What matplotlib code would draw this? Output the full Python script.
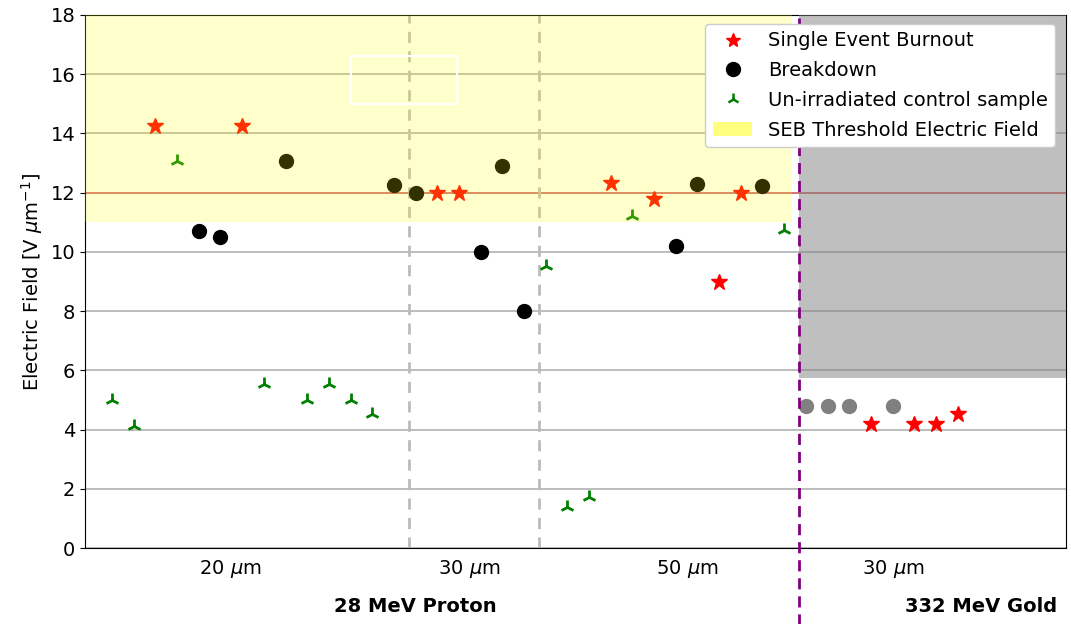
import matplotlib
matplotlib.use("Agg")
import matplotlib.pyplot as plt
from matplotlib.lines import Line2D
from matplotlib.patches import Patch, Rectangle
import matplotlib.transforms as mtransforms

plt.rcParams["font.size"] = 14

# Sample index along the x axis (proton samples 0-31, gold samples 32-39)
seb_x = [2, 6, 15, 16, 23, 25, 28, 29, 35, 37, 38, 39]
seb_y = [14.26, 14.26, 12.0, 12.0, 12.32, 11.8, 9.0, 12.0, 4.19, 4.19, 4.19, 4.52]

breakdown_x = [4, 5, 8, 13, 14, 17, 18, 19, 26, 27, 30]
breakdown_y = [10.7, 10.5, 13.07, 12.27, 12.0, 10.0, 12.9, 8.0, 10.2, 12.29, 12.23]

gold_breakdown_x = [32, 33, 34, 36]
gold_breakdown_y = [4.81, 4.81, 4.81, 4.81]

control_x = [0, 1, 3, 7, 9, 10, 11, 12, 20, 21, 22, 24, 31]
control_y = [5.0, 4.12, 13.07, 5.53, 5.0, 5.53, 5.0, 4.51, 9.52, 1.37, 1.71, 11.21, 10.74]

thickness_labels = ["20 $\\mu$m", "30 $\\mu$m", "50 $\\mu$m", "30 $\\mu$m"]
thickness_pos = [5.45, 16.5, 26.55, 36.05]
thickness_sep = [13.7, 19.7]
beam_sep = 31.7
beam_labels = ["28 MeV Proton", "332 MeV Gold"]
beam_pos = [14, 40.1]

seb_threshold = 12
x_left, x_right = -1.25, 44

fig = plt.figure(figsize=(10.71, 6.24), dpi=100)
ax = fig.add_axes([85 / 1071, 1 - 548 / 624, (1066 - 85) / 1071, (548 - 15) / 624])

ax.plot(seb_x, seb_y, "*", color="red", markersize=12, linestyle="none", zorder=2)
ax.plot(breakdown_x, breakdown_y, "o", color="black", markersize=10, linestyle="none", zorder=2)
ax.plot(gold_breakdown_x, gold_breakdown_y, "o", color="gray", markersize=10, linestyle="none", zorder=2)
ax.plot(control_x, control_y, "2", color="green", markersize=10, markeredgewidth=2,
        linestyle="none", zorder=2)

# threshold line and shaded regions
ax.axhline(seb_threshold, color="red", alpha=0.45, linewidth=1.2, zorder=1.5)
ax.fill_between([x_left, 31.35], 11, 18, color="yellow", alpha=0.2, linewidth=0, zorder=3)
ax.fill_between([beam_sep, x_right], 5.75, 18, color="gray", alpha=0.5, linewidth=0, zorder=3)
ax.add_patch(Rectangle((11, 15), 4.9, 1.6, fill=False, edgecolor="white", linewidth=1.5, zorder=3))

for xs in thickness_sep:
    ax.axvline(xs, color="#bbbbbb", linestyle="--", linewidth=2, dashes=(4, 3), zorder=1.5)
ax.axvline(beam_sep, ymin=-0.15, ymax=1, color="purple", linestyle="--", linewidth=2,
           dashes=(4, 2.5), clip_on=False, zorder=4)

ax.set_xlim(x_left, x_right)
ax.set_ylim(0, 18)
ax.set_yticks(range(0, 19, 2))
ax.set_xticks(thickness_pos)
ax.set_xticklabels(thickness_labels)
ax.tick_params(axis="x", length=0, pad=7)
ax.set_ylabel("Electric Field [V $\\mu$m$^{-1}$]")
ax.set_axisbelow(True)
ax.grid(axis="y", color="#b0b0b0", linewidth=1.2)

trans = mtransforms.blended_transform_factory(ax.transData, ax.transAxes)
for lab, xp in zip(beam_labels, beam_pos):
    ax.text(xp, -0.109, lab, transform=trans, ha="center", va="center", fontweight="bold")

handles = [
    Line2D([], [], marker="*", color="red", linestyle="none", markersize=10),
    Line2D([], [], marker="o", color="black", linestyle="none", markersize=10),
    Line2D([], [], marker="2", color="green", linestyle="none", markersize=9, markeredgewidth=1.8),
    Patch(facecolor="yellow", alpha=0.5),
]
labels = ["Single Event Burnout", "Breakdown", "Un-irradiated control sample",
          "SEB Threshold Electric Field"]
leg = ax.legend(handles, labels, loc="upper right", bbox_to_anchor=(0.999, 1.002),
                framealpha=1, labelspacing=0.55)
leg.set_zorder(10)

fig.savefig("out.png", dpi=100)
